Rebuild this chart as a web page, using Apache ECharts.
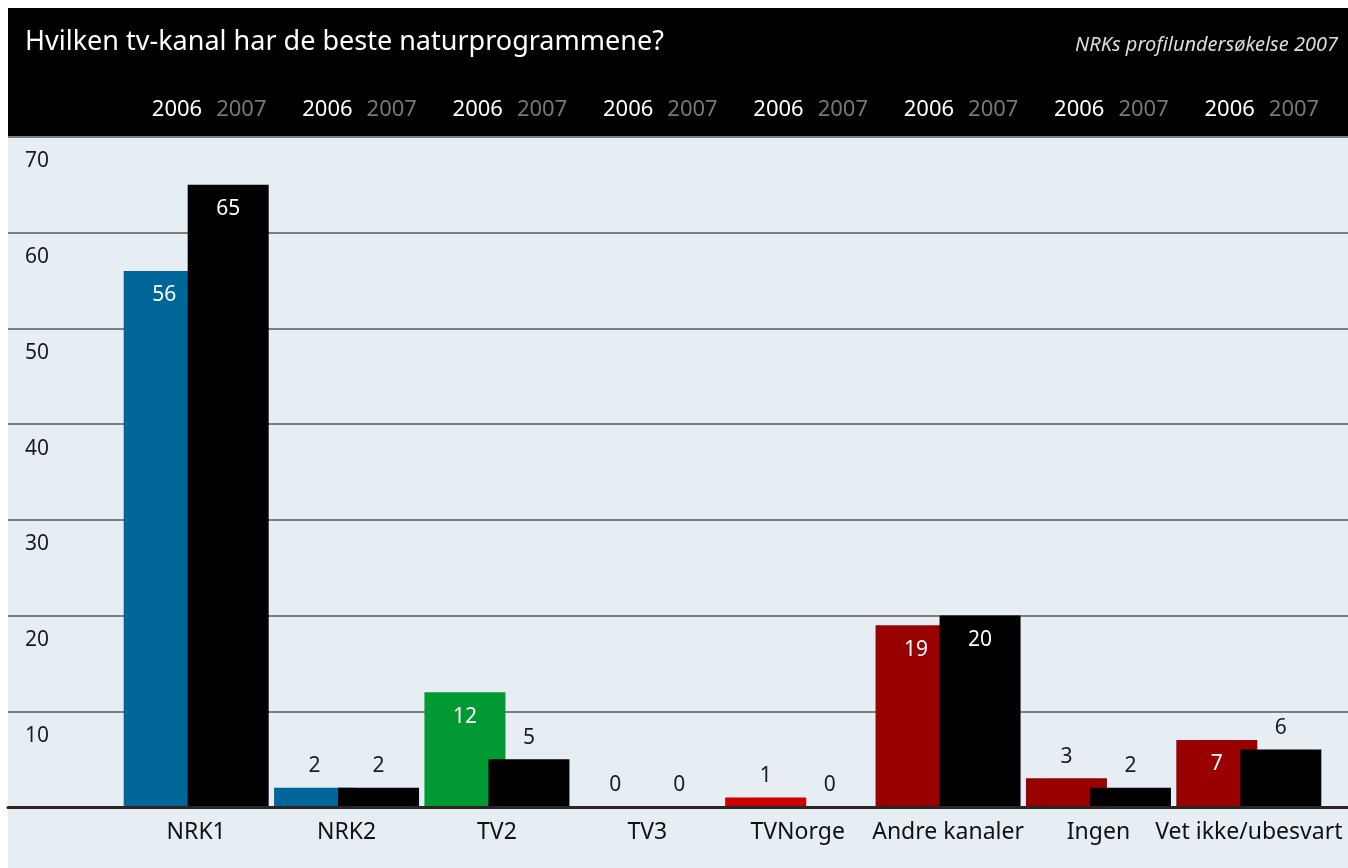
<!DOCTYPE html>
<html>
<head>
<meta charset="utf-8">
<title>Hvilken tv-kanal har de beste naturprogrammene?</title>
<script src="https://cdn.jsdelivr.net/npm/echarts@6/dist/echarts.min.js"></script>
<style>
  html, body { margin: 0; padding: 0; background: #fff; }
  #chart { width: 1348px; height: 868px; }
</style>
</head>
<body>
<div id="chart"></div>
<script>
const categories = ['NRK1', 'NRK2', 'TV2', 'TV3', 'TVNorge', 'Andre kanaler', 'Ingen', 'Vet ikke/ubesvart']
const values2006 = [56, 2, 12, 0, 1, 19, 3, 7]
const values2007 = [65, 2, 5, 0, 0, 20, 2, 6]
const yearLabels = ['2006', '2007']

// channel colours for the 2006 bars
const colors2006 = ['#006699', '#006699', '#009933', '#009933', '#cc0000', '#990000', '#990000', '#990000']

const FONT = 'Noto Sans'
const BG = '#e6eef4'

const labelFor = (v) => {
  const inside = v >= 7
  return {
    show: true,
    position: inside ? 'insideTop' : 'top',
    distance: inside ? 14 : 11,
    color: inside ? '#ffffff' : '#1a1a1a',
    fontFamily: FONT,
    fontSize: 21
  }
}

const chart = echarts.init(document.getElementById('chart'))

const option = {
  backgroundColor: BG,
  animation: false,
  textStyle: { fontFamily: FONT },
  graphic: [
    { type: 'rect', shape: { x: 0, y: 0, width: 1348, height: 8 }, style: { fill: '#fff' } },
    { type: 'rect', shape: { x: 0, y: 0, width: 8, height: 868 }, style: { fill: '#fff' } },
    { type: 'rect', shape: { x: 8, y: 8, width: 1340, height: 128 }, style: { fill: '#000' } },
    {
      type: 'text', left: 25, top: 29,
      style: { text: 'Hvilken tv-kanal har de beste naturprogrammene?', fill: '#fff', font: '27px "Noto Sans"' }
    },
    {
      type: 'text', right: 10, top: 35,
      style: { text: 'NRKs profilundersøkelse 2007', fill: '#dcdcdc', font: 'italic 20px "Noto Sans"' }
    }
  ],
  grid: [
    { left: 121, width: 1203, top: 137, bottom: 61 },
    { left: 8, right: 0, top: 137, bottom: 61 }
  ],
  xAxis: [
    {
      type: 'category',
      gridIndex: 0,
      data: categories,
      axisLine: { show: false },
      axisTick: { show: false },
      axisLabel: { color: '#111', fontSize: 23, margin: 14, interval: 0 }
    },
    {
      type: 'category',
      gridIndex: 0,
      position: 'top',
      data: categories,
      axisLine: { show: false },
      axisTick: { show: false },
      axisLabel: {
        interval: 0,
        margin: 16,
        padding: [0, 0, 0, 26],
        formatter: () => `{a|${yearLabels[0]}}{b|${yearLabels[1]}}`,
        rich: {
          a: { color: '#ffffff', fontSize: 22, fontFamily: FONT },
          b: { color: '#777777', fontSize: 22, fontFamily: FONT, padding: [0, 0, 0, 14] }
        }
      }
    },
    {
      type: 'value',
      gridIndex: 1,
      position: 'bottom',
      z: 5,
      axisLine: { show: true, onZero: false, lineStyle: { color: '#2b2526', width: 3 } },
      axisTick: { show: false },
      axisLabel: { show: false },
      splitLine: { show: false }
    }
  ],
  yAxis: [
    {
      type: 'value',
      gridIndex: 0,
      min: 0,
      max: 70,
      interval: 10,
      show: false
    },
    {
      type: 'value',
      gridIndex: 1,
      min: 0,
      max: 70,
      interval: 10,
      axisLine: { show: false },
      axisTick: { show: false },
      splitLine: { lineStyle: { color: '#7f7f7f', width: 2 } },
      axisLabel: {
        inside: true,
        margin: 17,
        verticalAlign: 'top',
        padding: [14, 0, 0, 0],
        color: '#1a1a1a',
        fontSize: 21,
        showMinLabel: false
      }
    }
  ],
  series: [
    {
      name: yearLabels[0],
      type: 'bar',
      xAxisIndex: 0,
      yAxisIndex: 0,
      barWidth: 81,
      barGap: '-21%',
      data: values2006.map((v, i) => ({
        value: v,
        itemStyle: { color: colors2006[i] },
        label: labelFor(v)
      }))
    },
    {
      name: yearLabels[1],
      type: 'bar',
      xAxisIndex: 0,
      yAxisIndex: 0,
      barWidth: 81,
      barGap: '-21%',
      itemStyle: { color: '#000' },
      data: values2007.map(v => ({ value: v, label: labelFor(v) }))
    }
  ]
}

chart.setOption(option)
</script>
</body>
</html>
